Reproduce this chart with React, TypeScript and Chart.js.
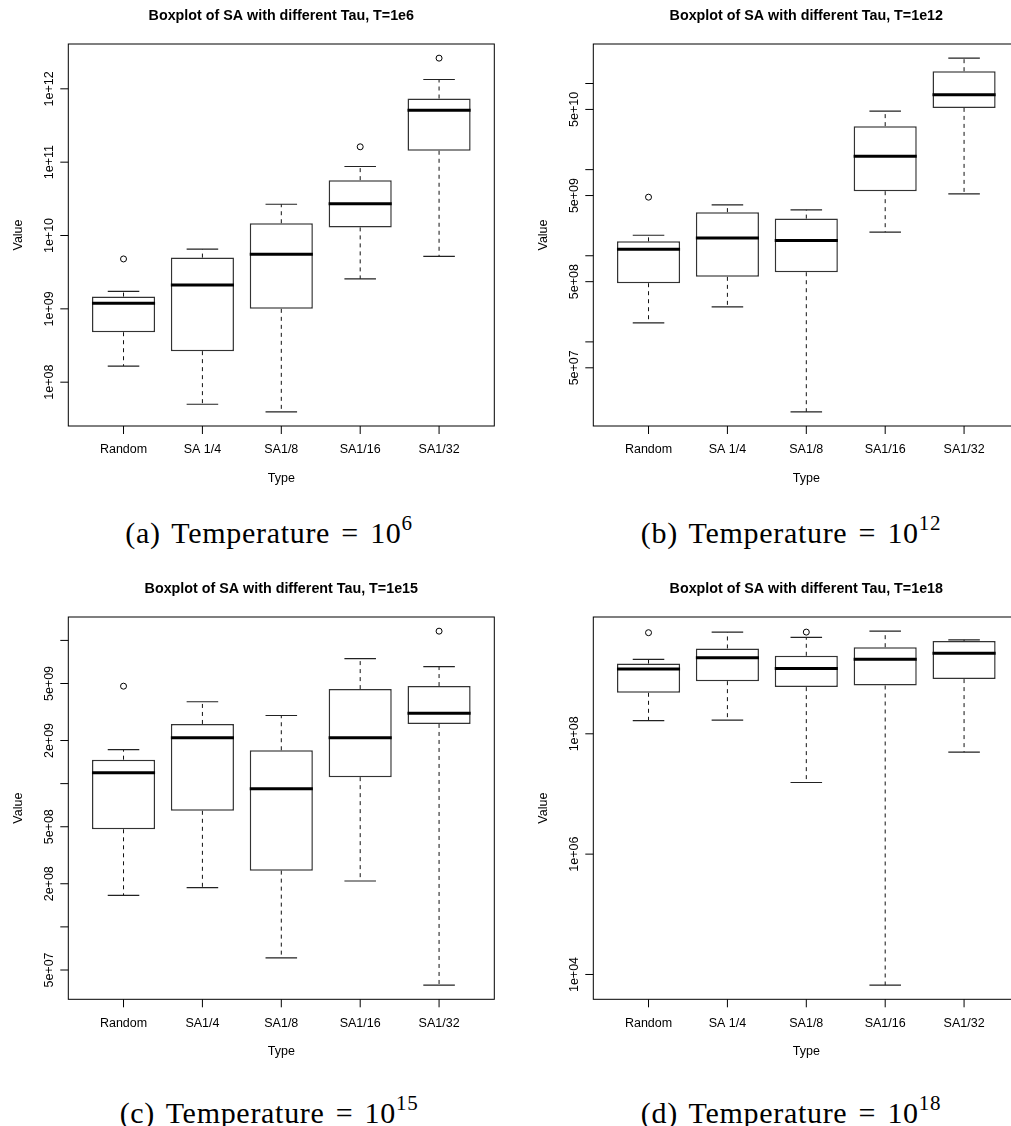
import React, { useEffect, useRef } from "react";
import { Chart, registerables } from "chart.js";

Chart.register(...registerables);

// ---------- data ----------
const typesA = ["Random", "SA 1/4", "SA1/8", "SA1/16", "SA1/32"];
const typesB = ["Random", "SA 1/4", "SA1/8", "SA1/16", "SA1/32"];
const typesC = ["Random", "SA1/4", "SA1/8", "SA1/16", "SA1/32"];
const typesD = ["Random", "SA 1/4", "SA1/8", "SA1/16", "SA1/32"];

// (a) T = 1e6
const lowA = [1.66e8, 5.0e7, 3.94e7, 2.56e9, 5.18e9];
const q1A = [4.8e8, 2.65e8, 1.0e9, 1.29e10, 1.43e11];
const medA = [1.19e9, 2.12e9, 5.56e9, 2.7e10, 5.12e11];
const q3A = [1.47e9, 5.0e9, 1.47e10, 5.69e10, 7.38e11];
const highA = [1.73e9, 6.52e9, 2.67e10, 8.73e10, 1.34e12];
const outA = [[4.79e9], [], [], [1.62e11], [2.62e12]];
const tickA = [1e8, 1e9, 1e10, 1e11, 1e12];
const tickLabelA = ["1e+08", "1e+09", "1e+10", "1e+11", "1e+12"];

// (b) T = 1e12
const lowB = [1.66e8, 2.55e8, 1.54e7, 1.88e9, 5.24e9];
const q1B = [4.8e8, 5.69e8, 6.44e8, 5.62e9, 5.21e10];
const medB = [1.19e9, 1.61e9, 1.5e9, 1.43e10, 7.38e10];
const q3B = [1.47e9, 3.21e9, 2.7e9, 3.2e10, 1.39e11];
const highB = [1.73e9, 3.9e9, 3.41e9, 4.78e10, 1.97e11];
const outB = [[4.79e9], [], [], [], []];
const tickB = [5e7, 1e8, 5e8, 1e9, 5e9, 1e10, 5e10, 1e11];
const tickLabelB = ["5e+07", "", "5e+08", "", "5e+09", "", "5e+10", ""];

// (c) T = 1e15
const lowC = [1.66e8, 1.88e8, 6.07e7, 2.09e8, 3.92e7];
const q1C = [4.8e8, 6.46e8, 2.47e8, 1.11e9, 2.61e9];
const medC = [1.19e9, 2.09e9, 9.2e8, 2.09e9, 3.1e9];
const q3C = [1.47e9, 2.61e9, 1.71e9, 4.57e9, 4.8e9];
const highC = [1.73e9, 3.73e9, 2.99e9, 7.45e9, 6.55e9];
const outC = [[4.79e9], [], [], [], [1.16e10]];
const tickC = [5e7, 1e8, 2e8, 5e8, 1e9, 2e9, 5e9, 1e10];
const tickLabelC = ["5e+07", "", "2e+08", "5e+08", "", "2e+09", "5e+09", ""];

// (d) T = 1e18
const lowD = [1.66e8, 1.69e8, 1.55e7, 6.65e3, 4.95e7];
const q1D = [4.8e8, 7.5e8, 5.97e8, 6.35e8, 8.11e8];
const medD = [1.19e9, 1.83e9, 1.22e9, 1.74e9, 2.19e9];
const q3D = [1.47e9, 2.62e9, 1.98e9, 2.75e9, 3.47e9];
const highD = [1.73e9, 4.9e9, 3.99e9, 5.08e9, 3.65e9];
const outD = [[4.79e9], [], [4.9e9], [], []];
const tickD = [1e4, 1e6, 1e8];
const tickLabelD = ["1e+04", "1e+06", "1e+08"];

const titles = [
  "Boxplot of SA with different Tau, T=1e6",
  "Boxplot of SA with different Tau, T=1e12",
  "Boxplot of SA with different Tau, T=1e15",
  "Boxplot of SA with different Tau, T=1e18",
];
const captionLetters = ["a", "b", "c", "d"];
const captionExponents = ["6", "12", "15", "18"];

// ---------- layout ----------
type Rect = { x: number; y: number; w: number; h: number };
type Plot = { l: number; t: number; r: number; b: number };

const panels = [
  {
    types: typesA, low: lowA, q1: q1A, med: medA, q3: q3A, high: highA, out: outA,
    ticks: tickA, tickLabels: tickLabelA, title: titles[0],
    canvas: { x: 0, y: 0, w: 505, h: 505 } as Rect,
    plot: { l: 68.3, t: 44, r: 494.3, b: 426 } as Plot,
  },
  {
    types: typesB, low: lowB, q1: q1B, med: medB, q3: q3B, high: highB, out: outB,
    ticks: tickB, tickLabels: tickLabelB, title: titles[1],
    canvas: { x: 505, y: 0, w: 530, h: 505 } as Rect,
    plot: { l: 593.3, t: 44, r: 1019.3, b: 426 } as Plot,
  },
  {
    types: typesC, low: lowC, q1: q1C, med: medC, q3: q3C, high: highC, out: outC,
    ticks: tickC, tickLabels: tickLabelC, title: titles[2],
    canvas: { x: 0, y: 555, w: 505, h: 530 } as Rect,
    plot: { l: 68.3, t: 617, r: 494.3, b: 999.3 } as Plot,
  },
  {
    types: typesD, low: lowD, q1: q1D, med: medD, q3: q3D, high: highD, out: outD,
    ticks: tickD, tickLabels: tickLabelD, title: titles[3],
    canvas: { x: 505, y: 555, w: 530, h: 530 } as Rect,
    plot: { l: 593.3, t: 617, r: 1019.3, b: 999.3 } as Plot,
  },
];

const captionPos = [
  { cx: 269, top: 518 },
  { cx: 791, top: 518 },
  { cx: 269, top: 1098 },
  { cx: 791, top: 1098 },
];

const SANS = '"Liberation Sans", Arial, Helvetica, sans-serif';

// R-style axis range: data range extended by 4% (in log space)
function logRange(p: any): [number, number] {
  const all: number[] = [...p.low, ...p.high, ...p.out.flat()].map((v: number) => Math.log10(v));
  const lo = Math.min(...all);
  const hi = Math.max(...all);
  const d = (hi - lo) * 0.04;
  return [Math.pow(10, lo - d), Math.pow(10, hi + d)];
}

function makeAxesPlugin(p: any) {
  return {
    id: "rAxes",
    afterDraw(chart: any) {
      const { ctx, chartArea: a, scales } = chart;
      const xs = scales.x;
      const ys = scales.y;
      ctx.save();
      ctx.strokeStyle = "#000";
      ctx.fillStyle = "#000";
      ctx.lineWidth = 1;
      // frame
      ctx.strokeRect(a.left, a.top, a.right - a.left, a.bottom - a.top);
      const seg = (x1: number, y1: number, x2: number, y2: number) => {
        ctx.beginPath();
        ctx.moveTo(x1, y1);
        ctx.lineTo(x2, y2);
        ctx.stroke();
      };
      ctx.font = `12.5px ${SANS}`;
      // y ticks + labels
      p.ticks.forEach((v: number, i: number) => {
        const py = ys.getPixelForValue(v);
        seg(a.left, py, a.left - 8, py);
        const lab = p.tickLabels[i];
        if (lab) {
          ctx.save();
          ctx.translate(a.left - 15, py);
          ctx.rotate(-Math.PI / 2);
          ctx.textAlign = "center";
          ctx.textBaseline = "alphabetic";
          ctx.fillText(lab, 0, 0);
          ctx.restore();
        }
      });
      // x ticks + labels
      ctx.textAlign = "center";
      ctx.textBaseline = "alphabetic";
      p.types.forEach((t: string, i: number) => {
        const px = xs.getPixelForValue(i + 1);
        seg(px, a.bottom, px, a.bottom + 8);
        ctx.fillText(t, px, a.bottom + 27.3);
      });
      const cx = (a.left + a.right) / 2;
      const cy = (a.top + a.bottom) / 2;
      ctx.fillText("Type", cx, a.bottom + 56);
      ctx.save();
      ctx.translate(a.left - 46, cy);
      ctx.rotate(-Math.PI / 2);
      ctx.fillText("Value", 0, 0);
      ctx.restore();
      // title
      ctx.font = `bold 14.3px ${SANS}`;
      ctx.fillText(p.title, cx, a.top - 24.5);
      ctx.restore();
    },
  };
}

function buildConfig(p: any): any {
  const [ymin, ymax] = logRange(p);
  const n = p.types.length;
  const idx = p.types.map((_: string, i: number) => i + 1);

  const boxes = idx.map((x: number, i: number) => ({ x, y: [p.q1[i], p.q3[i]] }));
  const whiskers: any[] = [];
  const staples: any[] = [];
  const medians: any[] = [];
  const outliers: any[] = [];
  idx.forEach((x: number, i: number) => {
    whiskers.push({ x, y: p.q3[i] }, { x, y: p.high[i] }, { x, y: null });
    whiskers.push({ x, y: p.q1[i] }, { x, y: p.low[i] }, { x, y: null });
    staples.push({ x: x - 0.2, y: p.high[i] }, { x: x + 0.2, y: p.high[i] }, { x, y: null });
    staples.push({ x: x - 0.2, y: p.low[i] }, { x: x + 0.2, y: p.low[i] }, { x, y: null });
    medians.push({ x: x - 0.4, y: p.med[i] }, { x: x + 0.4, y: p.med[i] }, { x, y: null });
    p.out[i].forEach((v: number) => outliers.push({ x, y: v }));
  });

  const c = p.canvas;
  const pl = p.plot;
  return {
    type: "bar",
    data: {
      datasets: [
        {
          type: "bar",
          data: boxes,
          backgroundColor: "#ffffff",
          borderColor: "#333333",
          borderWidth: 1.5,
          borderSkipped: false,
          barPercentage: 1,
          categoryPercentage: 0.8,
          order: 5,
        },
        {
          type: "line",
          data: whiskers,
          borderColor: "#111111",
          borderWidth: 1,
          borderDash: [4, 4],
          pointRadius: 0,
          spanGaps: false,
          tension: 0,
          fill: false,
          order: 4,
        },
        {
          type: "line",
          data: staples,
          borderColor: "#222222",
          borderWidth: 1.2,
          pointRadius: 0,
          spanGaps: false,
          tension: 0,
          fill: false,
          order: 3,
        },
        {
          type: "line",
          data: medians,
          borderColor: "#000000",
          borderWidth: 3,
          pointRadius: 0,
          spanGaps: false,
          tension: 0,
          fill: false,
          order: 2,
        },
        {
          type: "scatter",
          data: outliers,
          pointStyle: "circle",
          pointRadius: 3,
          pointBackgroundColor: "rgba(0,0,0,0)",
          pointBorderColor: "#000000",
          pointBorderWidth: 1,
          order: 1,
        },
      ],
    },
    options: {
      responsive: false,
      maintainAspectRatio: false,
      animation: false,
      devicePixelRatio: 1,
      events: [],
      layout: {
        padding: {
          left: pl.l - c.x,
          top: pl.t - c.y,
          right: c.x + c.w - pl.r,
          bottom: c.y + c.h - pl.b,
        },
      },
      plugins: {
        legend: { display: false },
        tooltip: { enabled: false },
        title: { display: false },
      },
      scales: {
        x: {
          type: "linear",
          min: 0.5 - 0.04 * n,
          max: n + 0.5 + 0.04 * n,
          offset: false,
          display: false,
          afterBuildTicks: (scale: any) => {
            scale.ticks = idx.map((v: number) => ({ value: v }));
          },
        },
        y: {
          type: "logarithmic",
          min: ymin,
          max: ymax,
          bounds: "data",
          display: false,
        },
      },
    },
    plugins: [makeAxesPlugin(p)],
  };
}

function Panel({ p }: { p: any }) {
  const ref = useRef<HTMLCanvasElement | null>(null);
  useEffect(() => {
    if (!ref.current) return;
    const chart = new Chart(ref.current, buildConfig(p));
    return () => chart.destroy();
  }, [p]);
  const c = p.canvas;
  return (
    <canvas
      ref={ref}
      width={c.w}
      height={c.h}
      style={{ position: "absolute", left: c.x, top: c.y, width: c.w, height: c.h }}
    />
  );
}

function Caption({ i }: { i: number }) {
  const pos = captionPos[i];
  return (
    <div
      style={{
        position: "absolute",
        left: pos.cx - 200,
        top: pos.top,
        width: 400,
        textAlign: "center",
        fontFamily: '"Liberation Serif", "Times New Roman", serif',
        fontSize: 30,
        lineHeight: "30px",
        letterSpacing: "0.7px",
        wordSpacing: "3px",
        color: "#000",
        whiteSpace: "nowrap",
      }}
    >
      ({captionLetters[i]}) Temperature = 10
      <span style={{ fontSize: 21, position: "relative", top: -13 }}>{captionExponents[i]}</span>
    </div>
  );
}

export default function App() {
  return (
    <div
      style={{
        position: "absolute",
        left: 0,
        top: 0,
        width: 1011,
        height: 1126,
        overflow: "hidden",
        background: "#ffffff",
      }}
    >
      {panels.map((p, i) => (
        <Panel key={i} p={p} />
      ))}
      {captionPos.map((_, i) => (
        <Caption key={i} i={i} />
      ))}
    </div>
  );
}
